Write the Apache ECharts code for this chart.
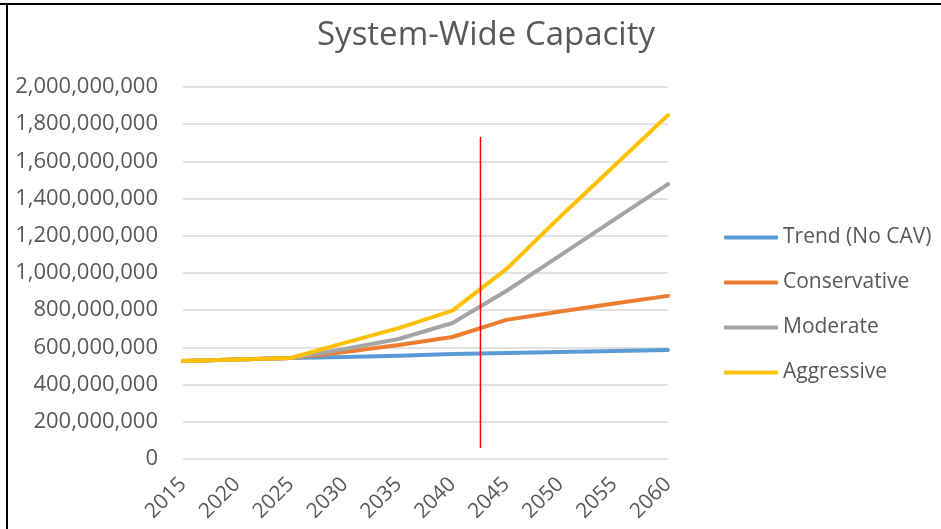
<!DOCTYPE html>
<html>
<head>
<meta charset="utf-8">
<script src="https://cdn.jsdelivr.net/npm/echarts@6/dist/echarts.min.js"></script>
<style>
  html, body { margin: 0; padding: 0; background: #fff; }
  #chart { width: 941px; height: 529px; }
</style>
</head>
<body>
<div id="chart"></div>
<script>
// data
var years = [2015, 2020, 2025, 2030, 2035, 2040, 2045, 2050, 2055, 2060];
var trend = [527e6, 535e6, 543e6, 548e6, 555e6, 565e6, 570e6, 575e6, 580e6, 586e6];
var conservative = [527e6, 535e6, 543e6, 575e6, 613e6, 656e6, 748e6, 793e6, 836e6, 877e6];
var moderate = [527e6, 535e6, 543e6, 591e6, 645e6, 731e6, 903e6, 1095e6, 1287e6, 1478e6];
var aggressive = [527e6, 535e6, 543e6, 624e6, 704e6, 798e6, 1021e6, 1303e6, 1575e6, 1849e6];
var yTicks = [0, 2e9, 2e8]; // min, max, step
// red divider drawn on the chart
var markerYear = 2042.6;
var markerRange = [59e6, 1731e6];

var font = "'Open Sans', sans-serif";
var textColor = "#595959";

function pairs(vals) {
  return years.map(function (y, i) { return [y, vals[i]]; });
}

function lineSeries(name, vals, color) {
  return {
    name: name,
    type: "line",
    data: pairs(vals),
    symbol: "none",
    lineStyle: { color: color, width: 4, cap: "round", join: "round" },
    itemStyle: { color: color },
    animation: false
  };
}

var chart = echarts.init(document.getElementById("chart"));
chart.setOption({
  backgroundColor: "#fff",
  title: {
    text: "System-Wide Capacity",
    left: 481,
    top: 14,
    textAlign: "center",
    textStyle: { fontFamily: font, fontSize: 33, fontWeight: "normal", color: textColor }
  },
  legend: {
    orient: "vertical",
    left: 719,
    top: 222,
    itemWidth: 54,
    itemHeight: 4,
    itemGap: 24,
    icon: "roundRect",
    data: ["Trend (No CAV)", "Conservative", "Moderate", "Aggressive"],
    textStyle: { fontFamily: font, fontSize: 21, color: textColor }
  },
  grid: { left: 183, right: 273, top: 87, bottom: 70 },
  xAxis: {
    type: "value",
    min: years[0],
    max: years[years.length - 1],
    interval: 5,
    axisLine: { show: false },
    axisTick: { show: false },
    splitLine: { show: false },
    axisLabel: {
      rotate: 45,
      margin: 22,
      fontFamily: font,
      fontSize: 21,
      color: textColor,
      formatter: function (v) { return String(v); }
    }
  },
  yAxis: {
    type: "value",
    min: yTicks[0],
    max: yTicks[1],
    interval: yTicks[2],
    axisLine: { show: false },
    axisTick: { show: false },
    splitLine: { lineStyle: { color: "#d9d9d9", width: 1.5 } },
    axisLabel: {
      margin: 25,
      fontFamily: font,
      fontSize: 22,
      color: textColor,
      formatter: function (v) { return v.toLocaleString("en-US"); }
    }
  },
  graphic: [
    { type: "rect", shape: { x: 0, y: 3, width: 941, height: 2 }, style: { fill: "#000" } },
    { type: "rect", shape: { x: 6, y: 3, width: 2, height: 526 }, style: { fill: "#000" } }
  ],
  series: [
    lineSeries("Trend (No CAV)", trend, "#5B9BD5"),
    lineSeries("Conservative", conservative, "#ED7D31"),
    lineSeries("Moderate", moderate, "#A5A5A5"),
    lineSeries("Aggressive", aggressive, "#FFC000"),
    {
      name: "marker",
      type: "line",
      data: [[markerYear, markerRange[0]], [markerYear, markerRange[1]]],
      symbol: "none",
      silent: true,
      lineStyle: { color: "#ff0000", width: 1.5 },
      animation: false,
      z: 5
    }
  ]
});
</script>
</body>
</html>
